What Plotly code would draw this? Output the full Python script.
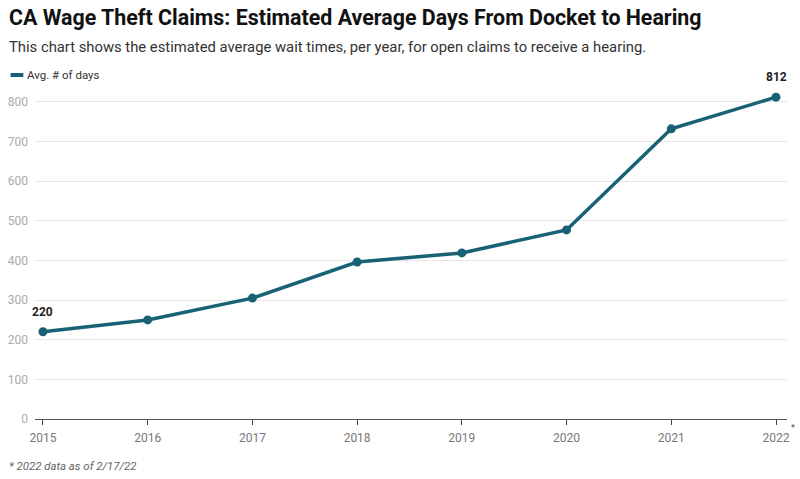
import plotly.graph_objects as go

# Data
years = [2015, 2016, 2017, 2018, 2019, 2020, 2021, 2022]
avg_days = [220, 250, 305, 396, 419, 477, 732, 812]
year_labels = ["2015", "2016", "2017", "2018", "2019", "2020", "2021", "2022"]
y_ticks = [0, 100, 200, 300, 400, 500, 600, 700, 800]

line_color = "#196275"
font_family = "Roboto, Arial, sans-serif"
plot_h = 329  # px height of the plotting area

fig = go.Figure()

fig.add_trace(go.Scatter(
    x=years, y=avg_days, mode="lines+markers", name="Avg. # of days",
    line=dict(color=line_color, width=3.5),
    marker=dict(color=line_color, size=9),
    cliponaxis=False, showlegend=False,
))

# Labels on first and last points
for i in [0, len(years) - 1]:
    fig.add_annotation(
        x=years[i], y=avg_days[i], text="<b>%d</b>" % avg_days[i],
        showarrow=False, yshift=20, font=dict(size=12, color="#222"),
    )

# Title and subtitle
fig.add_annotation(xref="paper", yref="paper", x=-0.037, y=1.0 + 72 / plot_h,
                   text="<b>CA Wage Theft Claims: Estimated Average Days From Docket to Hearing</b>",
                   showarrow=False, xanchor="left", yanchor="middle",
                   font=dict(size=21.4, color="#111"))
fig.add_annotation(xref="paper", yref="paper", x=-0.037, y=1.0 + 43 / plot_h,
                   text="This chart shows the estimated average wait times, per year, for open claims to receive a hearing.",
                   showarrow=False, xanchor="left", yanchor="middle",
                   font=dict(size=14.8, color="#333"))

# Legend (short line + text)
fig.add_shape(type="line", xref="paper", yref="paper",
              x0=-0.0325, x1=-0.0155, y0=1.0 + 15 / plot_h, y1=1.0 + 15 / plot_h,
              line=dict(color=line_color, width=4))
fig.add_annotation(xref="paper", yref="paper", x=-0.013, y=1.0 + 15 / plot_h,
                   text="Avg. # of days", showarrow=False, xanchor="left",
                   yanchor="middle", font=dict(size=11.5, color="#333"))

# Asterisk next to last tick
fig.add_annotation(xref="paper", yref="paper", x=1.002, y=-0.006,
                   text="*", showarrow=False, xanchor="left", yanchor="top",
                   font=dict(size=9, color="#555"))

# Footnote
fig.add_annotation(xref="paper", yref="paper", x=-0.037, y=-47 / plot_h,
                   text="<i>* 2022 data as of 2/17/22</i>", showarrow=False,
                   xanchor="left", yanchor="middle", font=dict(size=11.4, color="#666"))

fig.update_layout(
    width=800, height=479,
    margin=dict(l=35, r=13, t=90, b=60),
    paper_bgcolor="white", plot_bgcolor="white",
    font=dict(family=font_family),
)

fig.update_xaxes(
    tickvals=years, ticktext=year_labels, range=[2014.924, 2022.105],
    showgrid=False, showline=True, linecolor="#555", linewidth=1.2,
    ticks="outside", ticklen=5, tickcolor="#444", automargin=False,
    tickfont=dict(size=12, color="#777"), ticklabelstandoff=2, zeroline=False,
)
fig.update_yaxes(
    tickvals=y_ticks, range=[0, 830], showgrid=True, gridcolor="#e6e6e6",
    zeroline=False, showline=False, ticks="", ticklabelstandoff=6, automargin=False,
    tickfont=dict(size=12, color="#aaa"),
)

fig.write_html("out.html", config={"displayModeBar": False},
               post_script="document.body.style.margin='0';")
